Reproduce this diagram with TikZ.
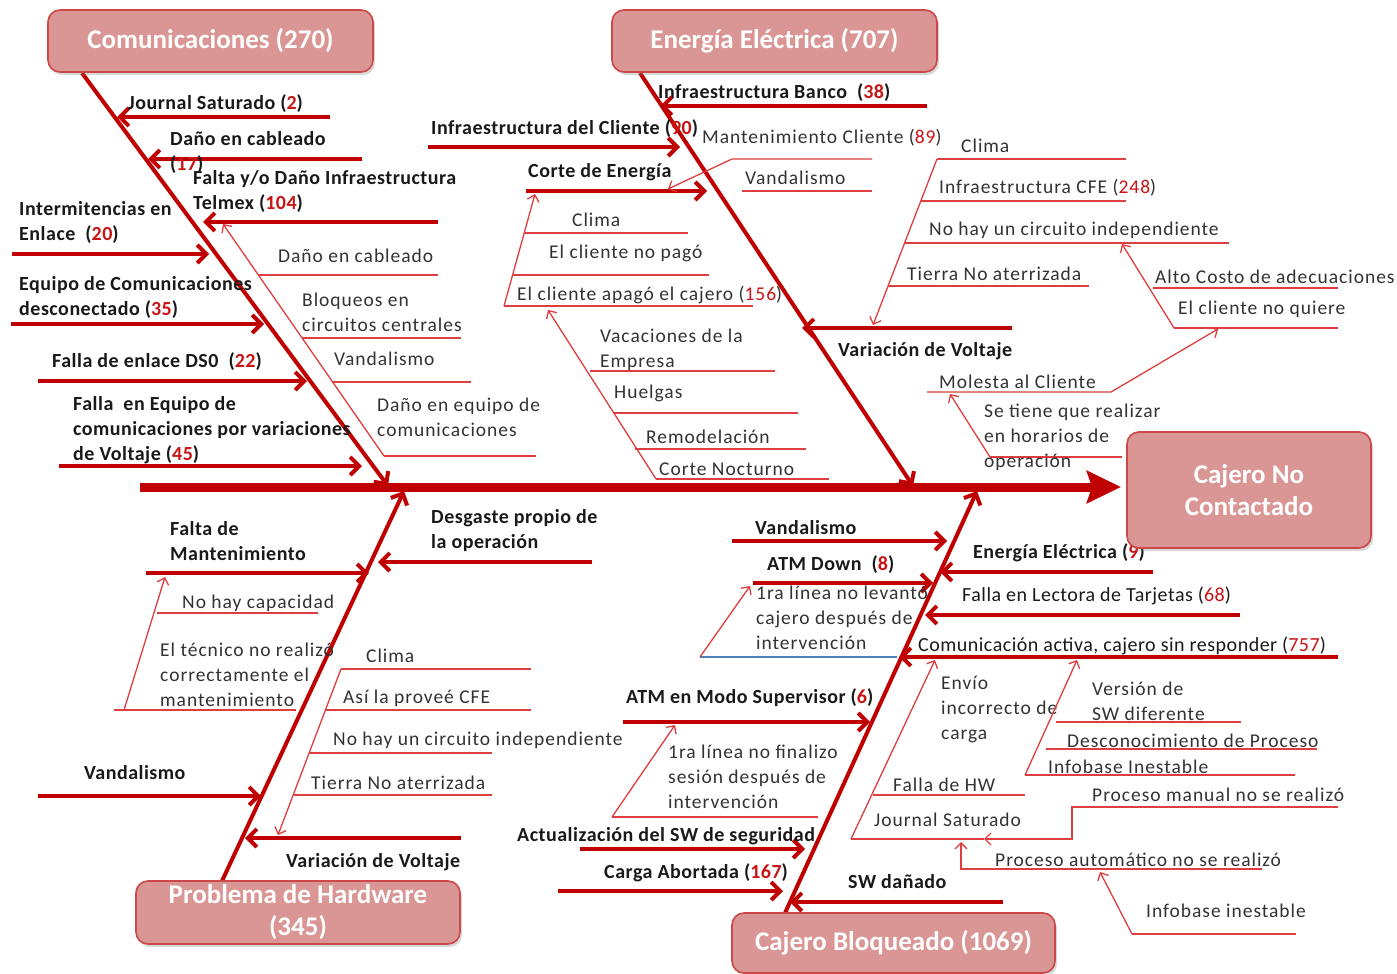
\documentclass[tikz,border=0pt]{standalone}
\usepackage{fontspec}
\setmainfont{Carlito}
\newfontfamily\thinfont[LetterSpace=5.0]{Carlito}
\newfontfamily\labfont[LetterSpace=2.5]{Carlito}
\usetikzlibrary{arrows.meta,shadows}

\definecolor{fishred}{RGB}{192,0,0}
\definecolor{twigred}{RGB}{222,62,62}
\definecolor{boxfill}{RGB}{217,150,149}
\definecolor{boxline}{RGB}{205,72,72}
\definecolor{numred}{RGB}{200,20,20}
\definecolor{inkdark}{RGB}{25,25,25}
\definecolor{inkgray}{RGB}{50,50,50}
\definecolor{blueline}{RGB}{79,129,189}

\newcommand{\nr}[1]{\textcolor{numred}{#1}}

\begin{document}
\begin{tikzpicture}[x=1pt,y=-1pt,
  spine/.style={draw=fishred,line width=9pt,-{Stealth[length=34pt,width=32pt,inset=5pt]}},
  bone/.style={draw=fishred,line width=4pt,-{Straight Barb[length=9pt,width=18pt]}},
  cause/.style={draw=fishred,line width=4pt,-{Straight Barb[length=9pt,width=18pt]}},
  twig/.style={draw=twigred,line width=1.3pt},
  twigarrow/.style={twig,-{Straight Barb[length=6pt,width=12pt]}},
  bluetwig/.style={draw=blueline,line width=1.3pt},
  bl/.style={font=\fontsize{20}{25}\labfont\bfseries,text=inkdark,anchor=west,inner sep=0pt,align=left},
  tl/.style={font=\fontsize{19.5}{25}\thinfont,text=inkgray,anchor=west,inner sep=0pt,align=left},
  rl/.style={font=\fontsize{20}{25}\labfont,text=inkdark,anchor=west,inner sep=0pt,align=left},
  catbox/.style={rectangle,rounded corners=12pt,fill=boxfill,draw=boxline,line width=1.6pt,
    text=white,font=\fontsize{27}{32}\selectfont\bfseries,align=center,inner sep=0pt,
    drop shadow={shadow xshift=2pt,shadow yshift=-3pt,opacity=0.3}}]
\useasboundingbox (0,0) rectangle (1397,974);

% ---------- spine ----------
\coordinate (sp-l) at (140,487);
\coordinate (sp-r) at (1121,487);
\draw[spine] (sp-l) -- (sp-r);

% ---------- main bones ----------
\coordinate (com-top) at (82,73);   \coordinate (com-tip) at (388,486);
\coordinate (ene-top) at (640,73);  \coordinate (ene-tip) at (913,486);
\coordinate (hw-bot) at (222,881);  \coordinate (hw-tip) at (404,491);
\coordinate (cb-bot) at (785,913);  \coordinate (cb-tip) at (977,491);
\draw[bone] (com-top) -- (com-tip);
\draw[bone] (ene-top) -- (ene-tip);
\draw[bone] (hw-bot) -- (hw-tip);
\draw[bone] (cb-bot) -- (cb-tip);

% ================= Comunicaciones =================
\coordinate (js-a) at (330,117);  \coordinate (js-b) at (117,117);
\coordinate (dc-a) at (362,159);  \coordinate (dc-b) at (148,159);
\coordinate (ft-a) at (438,222);  \coordinate (ft-b) at (203,222);
\coordinate (ie-a) at (12,254);   \coordinate (ie-b) at (209,254);
\coordinate (ec-a) at (11,324);   \coordinate (ec-b) at (264,324);
\coordinate (ds-a) at (38,381);   \coordinate (ds-b) at (307,381);
\coordinate (fe-a) at (59,466);   \coordinate (fe-b) at (362,466);
\draw[cause] (js-a) -- (js-b);
\draw[cause] (dc-a) -- (dc-b);
\draw[cause] (ft-a) -- (ft-b);
\draw[cause] (ie-a) -- (ie-b);
\draw[cause] (ec-a) -- (ec-b);
\draw[cause] (ds-a) -- (ds-b);
\draw[cause] (fe-a) -- (fe-b);
\node[bl] (js-t) at (128,104) {Journal Saturado\ (\nr{2})};
\node[bl] (dc-t) at (170,152) {Daño en cableado\\(\nr{17})};
\node[bl] (ft-t) at (193,191) {Falta y/o Daño Infraestructura\\Telmex (\nr{104})};
\node[bl] (ie-t) at (19,222) {Intermitencias en\\Enlace\ \ (\nr{20})};
\node[bl] (ec-t) at (19,297) {Equipo de Comunicaciones\\desconectado (\nr{35})};
\node[bl] (ds-t) at (52,362) {Falla de enlace DS0\ \ (\nr{22})};
\node[bl] (fe-t) at (73,430) {Falla\ \ en Equipo de\\comunicaciones por variaciones\\de Voltaje (\nr{45})};

% twigs feeding "Falta y/o Daño Infraestructura Telmex"
\coordinate (ct-bot) at (384,456); \coordinate (ct-tip) at (223,224);
\draw[twigarrow] (ct-bot) -- (ct-tip);
\coordinate (ct1-a) at (258,275); \coordinate (ct1-b) at (438,275);
\coordinate (ct2-a) at (302,338); \coordinate (ct2-b) at (461,338);
\coordinate (ct3-a) at (332,382); \coordinate (ct3-b) at (471,382);
\coordinate (ct4-b) at (536,456);
\draw[twig] (ct1-a) -- (ct1-b);
\draw[twig] (ct2-a) -- (ct2-b);
\draw[twig] (ct3-a) -- (ct3-b);
\draw[twig] (ct-bot) -- (ct4-b);
\node[tl] (ct1-t) at (278,256) {Daño en cableado};
\node[tl] (ct2-t) at (302,312) {Bloqueos en\\circuitos centrales};
\node[tl] (ct3-t) at (334,359) {Vandalismo};
\node[tl] (ct4-t) at (377,417) {Daño en equipo de\\comunicaciones};

% ================= Energía Eléctrica =================
\coordinate (ib-a) at (927,106);  \coordinate (ib-b) at (660,106);
\coordinate (ic-a) at (428,147);  \coordinate (ic-b) at (680,147);
\coordinate (ce-a) at (526,191);  \coordinate (ce-b) at (707,191);
\coordinate (vv-a) at (1012,328); \coordinate (vv-b) at (802,328);
\draw[cause] (ib-a) -- (ib-b);
\draw[cause] (ic-a) -- (ic-b);
\draw[cause] (ce-a) -- (ce-b);
\draw[cause] (vv-a) -- (vv-b);
\node[bl] (ib-t) at (658,93) {Infraestructura Banco\ \ (\nr{38})};
\node[bl] (ic-t) at (431,129) {Infraestructura del Cliente (\nr{90})};
\node[bl] (ce-t) at (528,172) {Corte de Energía};
\node[bl] (vv-t) at (838,351) {Variación de Voltaje};

% Mantenimiento Cliente and Vandalismo
\coordinate (mc-r) at (872,159); \coordinate (mc-l) at (732,159); \coordinate (mc-tip) at (668,189);
\draw[twigarrow] (mc-r) -- (mc-l) -- (mc-tip);
\node[tl] (mc-t) at (702,138) {Mantenimiento Cliente (\nr{89})};
\coordinate (ev-a) at (742,191); \coordinate (ev-b) at (872,191);
\draw[twig] (ev-a) -- (ev-b);
\node[tl] (ev-t) at (745,178) {Vandalismo};

% twigs feeding "Corte de Energía"
\coordinate (cet-bot) at (504,306); \coordinate (cet-tip) at (535,194);
\draw[twigarrow] (cet-bot) -- (cet-tip);
\coordinate (cet1-a) at (525,233); \coordinate (cet1-b) at (688,233);
\coordinate (cet2-a) at (513,275); \coordinate (cet2-b) at (709,275);
\coordinate (cet3-b) at (753,306);
\draw[twig] (cet1-a) -- (cet1-b);
\draw[twig] (cet2-a) -- (cet2-b);
\draw[twig] (cet-bot) -- (cet3-b);
\node[tl] (cet1-t) at (572,220) {Clima};
\node[tl] (cet2-t) at (549,253) {El cliente no pagó};
\node[tl] (cet3-t) at (517,295) {El cliente apagó el cajero (\nr{156})};

% twigs feeding "El cliente apagó el cajero"
\coordinate (ap-bot) at (656,479); \coordinate (ap-tip) at (548,310);
\draw[twigarrow] (ap-bot) -- (ap-tip);
\coordinate (ap1-a) at (590,371); \coordinate (ap1-b) at (775,371);
\coordinate (ap2-a) at (614,413); \coordinate (ap2-b) at (798,413);
\coordinate (ap3-a) at (635,449); \coordinate (ap3-b) at (806,449);
\coordinate (ap4-b) at (829,479);
\draw[twig] (ap1-a) -- (ap1-b);
\draw[twig] (ap2-a) -- (ap2-b);
\draw[twig] (ap3-a) -- (ap3-b);
\draw[twig] (ap-bot) -- (ap4-b);
\node[tl] (ap1-t) at (600,350) {Vacaciones de la\\Empresa};
\node[tl] (ap2-t) at (614,393) {Huelgas};
\node[tl] (ap3-t) at (646,437) {Remodelación};
\node[tl] (ap4-t) at (659,469) {Corte Nocturno};

% twigs feeding "Variación de Voltaje"
\coordinate (vt-top) at (937,159); \coordinate (vt-tip) at (873,325);
\draw[twigarrow] (vt-top) -- (vt-tip);
\coordinate (vt1-b) at (1126,159);
\coordinate (vt2-a) at (921,201); \coordinate (vt2-b) at (1126,201);
\coordinate (vt3-a) at (905,243); \coordinate (vt3-b) at (1229,243);
\coordinate (vt4-a) at (888,286); \coordinate (vt4-b) at (1089,286);
\draw[twig] (vt-top) -- (vt1-b);
\draw[twig] (vt2-a) -- (vt2-b);
\draw[twig] (vt3-a) -- (vt3-b);
\draw[twig] (vt4-a) -- (vt4-b);
\node[tl] (vt1-t) at (961,146) {Clima};
\node[tl] (vt2-t) at (939,188) {Infraestructura CFE (\nr{248})};
\node[tl] (vt3-t) at (929,230) {No hay un circuito independiente};
\node[tl] (vt4-t) at (907,274) {Tierra No aterrizada};

% twigs feeding "No hay un circuito independiente"
\coordinate (nq-a) at (1174,328); \coordinate (nq-b) at (1338,328); \coordinate (nq-tip) at (1122,244);
\coordinate (ac-a) at (1153,288); \coordinate (ac-b) at (1338,288);
\draw[twig] (nq-a) -- (nq-b);
\draw[twig] (ac-a) -- (ac-b);
\draw[twigarrow] (nq-a) -- (nq-tip);
\node[tl] (ac-t) at (1155,277) {Alto Costo de adecuaciones};
\node[tl] (nq-t) at (1178,309) {El cliente no quiere};

% Molesta al Cliente
\coordinate (mo-a) at (927,392); \coordinate (mo-b) at (1111,392); \coordinate (mo-tip) at (1218,329);
\draw[twigarrow] (mo-a) -- (mo-b) -- (mo-tip);
\node[tl] (mo-t) at (939,382) {Molesta al Cliente};
\coordinate (ho-a) at (990,457); \coordinate (ho-b) at (1122,457); \coordinate (ho-tip) at (950,394);
\draw[twig] (ho-a) -- (ho-b);
\draw[twigarrow] (ho-a) -- (ho-tip);
\node[tl] (ho-t) at (984,437) {Se tiene que realizar\\en horarios de\\operación};

% ================= Problema de Hardware =================
\coordinate (dp-a) at (592,562);  \coordinate (dp-b) at (378,562);
\coordinate (fm-a) at (146,573);  \coordinate (fm-b) at (369,573);
\coordinate (hv-a) at (38,796);   \coordinate (hv-b) at (261,796);
\coordinate (hx-a) at (461,838);  \coordinate (hx-b) at (245,838);
\draw[cause] (dp-a) -- (dp-b);
\draw[cause] (fm-a) -- (fm-b);
\draw[cause] (hv-a) -- (hv-b);
\draw[cause] (hx-a) -- (hx-b);
\node[bl] (dp-t) at (431,531) {Desgaste propio de\\la operación};
\node[bl] (fm-t) at (170,541) {Falta de\\Mantenimiento};
\node[bl] (hv-t) at (84,773) {Vandalismo};
\node[bl] (hx-t) at (286,862) {Variación de Voltaje};

% twigs feeding "Falta de Mantenimiento"
\coordinate (fmt-bot) at (124,710); \coordinate (fmt-tip) at (165,577);
\draw[twigarrow] (fmt-bot) -- (fmt-tip);
\coordinate (fmt1-a) at (157,613); \coordinate (fmt1-b) at (318,613);
\coordinate (fmt2-a) at (114,710); \coordinate (fmt2-b) at (296,710);
\draw[twig] (fmt1-a) -- (fmt1-b);
\draw[twig] (fmt2-a) -- (fmt2-b);
\node[tl] (fmt1-t) at (182,603) {No hay capacidad};
\node[tl] (fmt2-t) at (160,675) {El técnico no realizó\\correctamente el\\mantenimiento};

% twigs feeding "Variación de Voltaje"
\coordinate (hxt-top) at (341,669); \coordinate (hxt-tip) at (278,835);
\draw[twigarrow] (hxt-top) -- (hxt-tip);
\coordinate (hxt1-b) at (531,669);
\coordinate (hxt2-a) at (326,710); \coordinate (hxt2-b) at (531,710);
\coordinate (hxt3-a) at (310,753); \coordinate (hxt3-b) at (492,753);
\coordinate (hxt4-a) at (294,795); \coordinate (hxt4-b) at (492,795);
\draw[twig] (hxt-top) -- (hxt1-b);
\draw[twig] (hxt2-a) -- (hxt2-b);
\draw[twig] (hxt3-a) -- (hxt3-b);
\draw[twig] (hxt4-a) -- (hxt4-b);
\node[tl] (hxt1-t) at (366,656) {Clima};
\node[tl] (hxt2-t) at (343,698) {Así la proveé CFE};
\node[tl] (hxt3-t) at (333,740) {No hay un circuito independiente};
\node[tl] (hxt4-t) at (311,783) {Tierra No aterrizada};

% ================= Cajero Bloqueado =================
\coordinate (bv-a) at (732,541);  \coordinate (bv-b) at (947,541);
\coordinate (ad-a) at (753,583);  \coordinate (ad-b) at (933,583);
\coordinate (e9-a) at (1153,572); \coordinate (e9-b) at (940,572);
\coordinate (fl-a) at (1240,615); \coordinate (fl-b) at (925,615);
\coordinate (ca-a) at (1338,657); \coordinate (ca-b) at (899,657);
\coordinate (ms-a) at (623,722);  \coordinate (ms-b) at (870,722);
\coordinate (as-a) at (580,849);  \coordinate (as-b) at (805,849);
\coordinate (ab-a) at (558,891);  \coordinate (ab-b) at (783,891);
\coordinate (sd-a) at (1003,902); \coordinate (sd-b) at (790,902);
\draw[cause] (bv-a) -- (bv-b);
\draw[cause] (ad-a) -- (ad-b);
\draw[cause] (e9-a) -- (e9-b);
\draw[cause] (fl-a) -- (fl-b);
\draw[cause] (ca-a) -- (ca-b);
\draw[cause] (ms-a) -- (ms-b);
\draw[cause] (as-a) -- (as-b);
\draw[cause] (ab-a) -- (ab-b);
\draw[cause] (sd-a) -- (sd-b);
\node[bl] (bv-t) at (755,528) {Vandalismo};
\node[bl] (ad-t) at (767,565) {ATM Down\ \ (\nr{8})};
\node[bl] (e9-t) at (973,553) {Energía Eléctrica (\nr{9})};
\node[rl] (fl-t) at (962,596) {Falla en Lectora de Tarjetas (\nr{68})};
\node[rl] (ca-t) at (918,646) {Comunicación activa, cajero sin responder (\nr{757})};
\node[bl] (ms-t) at (626,698) {ATM en Modo Supervisor (\nr{6})};
\node[bl] (as-t) at (517,836) {Actualización del SW de seguridad};
\node[bl] (ab-t) at (604,873) {Carga Abortada (\nr{167})};
\node[bl] (sd-t) at (848,882) {SW dañado};

% twig feeding "ATM Down"
\coordinate (lv-a) at (700,657); \coordinate (lv-b) at (897,657); \coordinate (lv-tip) at (750,586);
\draw[bluetwig] (lv-a) -- (lv-b);
\draw[twigarrow] (lv-a) -- (lv-tip);
\node[tl] (lv-t) at (756,618) {1ra línea no levantó\\cajero después de\\intervención};

% twig feeding "ATM en Modo Supervisor"
\coordinate (fz-a) at (612,817); \coordinate (fz-b) at (818,817); \coordinate (fz-tip) at (675,725);
\draw[twig] (fz-a) -- (fz-b);
\draw[twigarrow] (fz-a) -- (fz-tip);
\node[tl] (fz-t) at (668,777) {1ra línea no finalizo\\sesión después de\\intervención};

% twigs feeding "Comunicación activa, cajero sin responder"
\coordinate (en-bot) at (851,839); \coordinate (en-tip) at (935,660);
\draw[twigarrow] (en-bot) -- (en-tip);
\coordinate (hw1-a) at (873,795); \coordinate (hw1-b) at (1025,795);
\coordinate (jo-b) at (984,839);
\draw[twig] (hw1-a) -- (hw1-b);
\draw[twig] (en-bot) -- (jo-b);
\node[tl] (en-t) at (941,710) {Envío\\incorrecto de\\carga};
\node[tl] (hw1-t) at (893,785) {Falla de HW};
\node[tl] (jo-t) at (874,820) {Journal Saturado};

\coordinate (sw-bot) at (1025,775); \coordinate (sw-tip) at (1077,660);
\draw[twigarrow] (sw-bot) -- (sw-tip);
\coordinate (sw1-a) at (1056,722); \coordinate (sw1-b) at (1241,722);
\coordinate (sw2-a) at (1046,749); \coordinate (sw2-b) at (1317,749);
\coordinate (sw3-b) at (1295,775);
\draw[twig] (sw1-a) -- (sw1-b);
\draw[twig] (sw2-a) -- (sw2-b);
\draw[twig] (sw-bot) -- (sw3-b);
\node[tl] (sw1-t) at (1092,701) {Versión de\\SW diferente};
\node[tl] (sw2-t) at (1067,741) {Desconocimiento de Proceso};
\node[tl] (sw3-t) at (1048,767) {Infobase Inestable};

% twigs feeding "Journal Saturado"
\coordinate (pm-a) at (1338,807); \coordinate (pm-b) at (1072,807); \coordinate (pm-c) at (1072,839);
\draw[twigarrow] (pm-a) -- (pm-b) -- (pm-c) -- (jo-b);
\node[tl] (pm-t) at (1092,795) {Proceso manual no se realizó};
\coordinate (pa-a) at (1262,869); \coordinate (pa-b) at (961,869); \coordinate (pa-tip) at (961,842);
\draw[twigarrow] (pa-a) -- (pa-b) -- (pa-tip);
\node[tl] (pa-t) at (995,860) {Proceso automático no se realizó};
\coordinate (ii-a) at (1132,934); \coordinate (ii-b) at (1296,934); \coordinate (ii-tip) at (1100,872);
\draw[twig] (ii-a) -- (ii-b);
\draw[twigarrow] (ii-a) -- (ii-tip);
\node[tl] (ii-t) at (1146,911) {Infobase inestable};

% ---------- category boxes and effect ----------
\node[catbox,minimum width=325pt,minimum height=62pt] (com) at (210.5,41) {Comunicaciones (270)};
\node[catbox,minimum width=325pt,minimum height=62pt] (ene) at (774.5,41) {Energía Eléctrica (707)};
\node[catbox,minimum width=324pt,minimum height=63pt] (hw) at (298,912.5) {Problema de Hardware\\(345)};
\node[catbox,minimum width=323pt,minimum height=60pt] (cb) at (893.5,943) {Cajero Bloqueado (1069)};
\node[catbox,minimum width=244pt,minimum height=116pt] (head) at (1249,490) {Cajero No\\Contactado};
\end{tikzpicture}
\end{document}
